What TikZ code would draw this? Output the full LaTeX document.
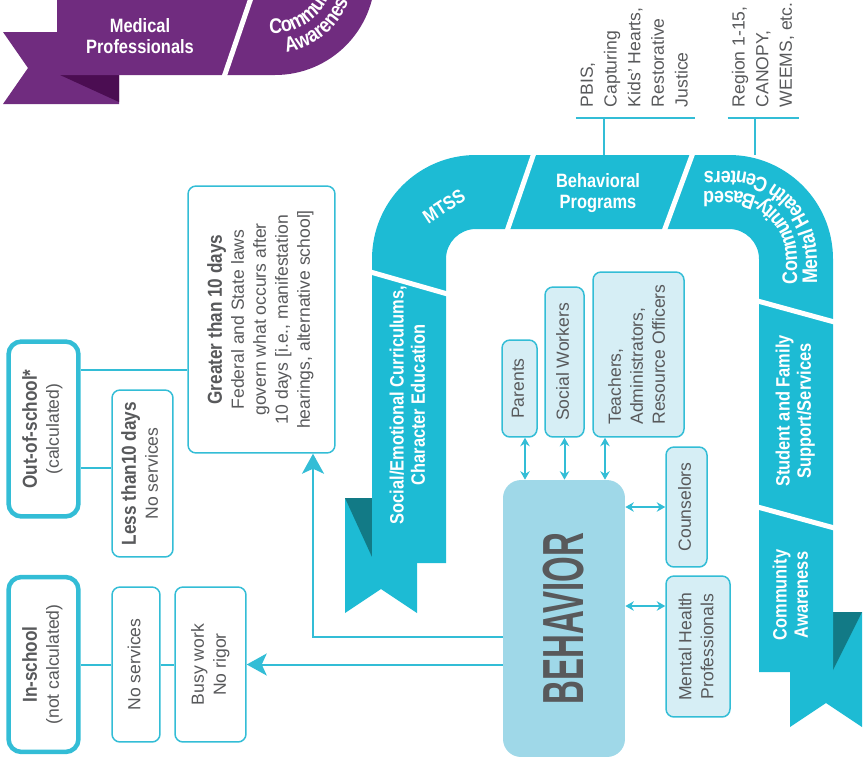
\documentclass[tikz,border=0pt]{standalone}
\usepackage{fontspec}
\setmainfont{Liberation Sans}
\newfontfamily\condfont[FakeStretch=0.85]{Liberation Sans}
\usepackage{graphicx}
\usetikzlibrary{arrows.meta,decorations.text}

\definecolor{bandteal}{RGB}{29,187,212}
\definecolor{bandshade}{RGB}{18,122,134}
\definecolor{boxline}{RGB}{51,189,214}
\definecolor{boxfill}{RGB}{214,238,245}
\definecolor{behfill}{RGB}{159,216,232}
\definecolor{inkgray}{RGB}{88,89,91}
\definecolor{purp}{RGB}{112,44,127}
\definecolor{purpshade}{RGB}{75,13,82}

\newcommand{\vtext}[2][c]{\rotatebox{90}{\begin{tabular}{@{}#1@{}}#2\end{tabular}}}
\newcommand{\hd}[1]{{\condfont\bfseries\fontsize{11.5}{13}\selectfont #1}}
\newcommand{\curvefont}{\condfont\bfseries\fontsize{12}{14}\selectfont\color{white}}

\begin{document}
\begin{tikzpicture}[x=0.02cm,y=-0.02cm]


\tikzset{box/.style={draw=boxline,line width=0.03cm,rounded corners=0.16cm,fill=white,inner sep=0pt,text=inkgray,font=\fontsize{10}{12.5}\selectfont},}
\tikzset{who/.style={box,fill=boxfill},}
\tikzset{kind/.style={box,line width=0.09cm,rounded corners=0.26cm},}
\tikzset{note/.style={inner xsep=0pt,inner ysep=6pt,anchor=south,text=inkgray,font=\fontsize{10}{13.5}\selectfont},}
\tikzset{bandtext/.style={inner sep=0pt,text=white,font=\condfont\bfseries\fontsize{11}{12}\selectfont},}

\tikzset{link/.style={draw=boxline,line width=0.04cm},}
\tikzset{arrow/.style={link,-{Stealth[length=0.4cm,width=0.44cm,inset=0.1cm]}},}
\tikzset{twoway/.style={link,{Stealth[length=0.17cm,width=0.19cm]}-{Stealth[length=0.17cm,width=0.19cm]}},}
\tikzset{gap/.style={draw=white,line width=0.1cm},}
\tikzset{curved/.style={decorate,decoration={text along path,text align=center,text color=white,text={|\curvefont|#1}}},}

\useasboundingbox (0,0) rectangle (865,761);
\clip (0,0) rectangle (865,761);

% purple ribbon
\fill[purp] (3,32) -- (119,32) -- (119,104) -- (3,104) -- (28,68) -- cycle;
\fill[purpshade] (60,75) -- (119,75) -- (119,102) -- cycle;
\fill[purp] (57,-30) -- (57,75) -- (275,75) arc[start angle=90,end angle=0,radius=100] -- (375,-30) -- cycle;
\draw[gap] (252,-5) -- (223,80);

% teal ribbon
\fill[bandteal] (345,498) -- (417,498) -- (417,613) -- (381,589) -- (345,613) -- cycle;
\fill[bandteal] (790,612) -- (862,612) -- (862,727) -- (826,703) -- (790,727) -- cycle;
\fill[bandshade] (345,498) -- (372,498) -- (372,557) -- cycle;
\fill[bandshade] (833,612) -- (862,612) -- (833,670) -- cycle;
\fill[bandteal] (372,563) -- (372,259) arc[start angle=180,end angle=270,radius=104] -- (729,155) arc[start angle=270,end angle=360,radius=104] -- (833,672) -- (759,672) -- (759,259) arc[start angle=0,end angle=-90,radius=30] -- (476,229) arc[start angle=270,end angle=180,radius=30] -- (446,563) -- cycle;

\draw[gap] (535,150) -- (506,234);
\draw[gap] (694,150) -- (663,234);
\draw[gap] (367,271) -- (451,295);
\draw[gap] (754,300) -- (838,323);
\draw[gap] (754,506) -- (838,529);

\draw
	(444,206) node[bandtext,rotate=33] (mtss) {MTSS}
	(598,193) node[bandtext,align=center] (bprog) {Behavioral\\Programs}
	(410,405) node[bandtext] (sel) {\vtext{Social/Emotional Curriculums,\\Character Education}}
	(796,411) node[bandtext] (sfs) {\vtext{Student and Family\\Support/Services}}
	(793,595) node[bandtext] (caw) {\vtext{Community\\Awareness}}
	(140,36) node[bandtext,align=center] (medprof) {Medical\\Professionals}
;
\path[curved={Community-Based}] (797,299) -- (797,259) arc[start angle=0,end angle=-90,radius=68] -- (689,191);
\path[curved={Mental Health Centers}] (817,319) -- (817,259) arc[start angle=0,end angle=-90,radius=88] -- (669,171);
\path[curved={Community}] (253.3,28.8) arc[start angle=112,end angle=-18,radius=58];
\path[curved={Awareness}] (245.8,47.3) arc[start angle=112,end angle=-18,radius=78];

% boxes
\draw
	(43.5,429) node[kind,minimum width=1.4cm,minimum height=3.5cm] (outsch) {\vtext{\hd{Out-of-school*}\\(calculated)}}
	(43.5,664.5) node[kind,minimum width=1.4cm,minimum height=3.5cm] (insch) {\vtext{\hd{In-school}\\(not calculated)}}
	(142.5,473.5) node[box,minimum width=1.22cm,minimum height=3.34cm] (less) {\vtext{\hd{Less than10 days}\\No services}}
	(261.5,319.5) node[box,minimum width=2.94cm,minimum height=5.34cm] (greater) {\vtext{\hd{Greater than 10 days}\\Federal and State laws\\govern what occurs after\\10 days [i.e., manifestation\\hearings, alternative school]}}
	(136,664.5) node[box,minimum width=0.96cm,minimum height=3.1cm] (nosrv) {\vtext{No services}}
	(210.5,664.5) node[box,minimum width=1.42cm,minimum height=3.1cm] (busy) {\vtext{Busy work\\No rigor}}

	(564,618.5) node[fill=behfill,rounded corners=0.36cm,minimum width=2.44cm,minimum height=5.54cm,text=inkgray] (beh) {\rotatebox{90}{\scalebox{0.67}[1]{\condfont\bfseries\fontsize{33}{33}\selectfont BEHAVIOR}}}
	(519.5,388.5) node[who,minimum width=0.7cm,minimum height=1.94cm] (parents) {\vtext{Parents}}
	(564.5,362) node[who,minimum width=0.78cm,minimum height=3cm] (social) {\vtext{Social Workers}}
	(638.5,354.5) node[who,minimum width=1.82cm,minimum height=3.3cm] (teach) {\vtext[l]{Teachers,\\Administrators,\\Resource Officers}}
	(686.5,507) node[who,minimum width=0.82cm,minimum height=2.4cm] (couns) {\vtext{Counselors}}
	(698,646.5) node[who,minimum width=1.28cm,minimum height=2.82cm] (mental) {\vtext{Mental Health\\Professionals}}

	(635.5,118) node[note,minimum width=2.34cm] (pbis) {\vtext[l]{PBIS,\\Capturing\\Kids' Hearts,\\Restorative\\Justice}}
	(763.5,118) node[note,minimum width=1.4cm] (region) {\vtext[l]{Region 1-15,\\CANOPY,\\WEEMS, etc.}}
;

\coordinate (pbisfoot) at (604,155);
\coordinate (regionfoot) at (755,155);
\coordinate (kink) at (313,637);

\draw[link] (pbis.south west) -- (pbis.south east);
\draw[link,line width=0.03cm] (pbisfoot |- pbis.south) -- (pbisfoot);
\draw[link] (region.south west) -- (region.south east);
\draw[link,line width=0.03cm] (regionfoot |- region.south) -- (regionfoot);

\draw[link] (outsch.east |- 0,370) -- (greater.west |- 0,370);
\draw[link] (outsch.east |- 0,468) -- (less.west |- 0,468);
\draw[link] (insch) -- (nosrv) (nosrv) -- (busy);

\draw[arrow] (kink -| beh.west) -- (kink) -- (kink |- greater.south);
\draw[arrow] (beh.west |- busy) -- (busy.east);

\draw[twoway] (parents.south -| 525,0) -- (beh.north -| 525,0);
\draw[twoway] (social.south) -- (social.south |- beh.north);
\draw[twoway] (teach.south -| 605,0) -- (beh.north -| 605,0);
\draw[twoway] (beh.east |- couns) -- (couns.west);
\draw[twoway] (beh.east |- 0,606) -- (mental.west |- 0,606);

\end{tikzpicture}
\end{document}
